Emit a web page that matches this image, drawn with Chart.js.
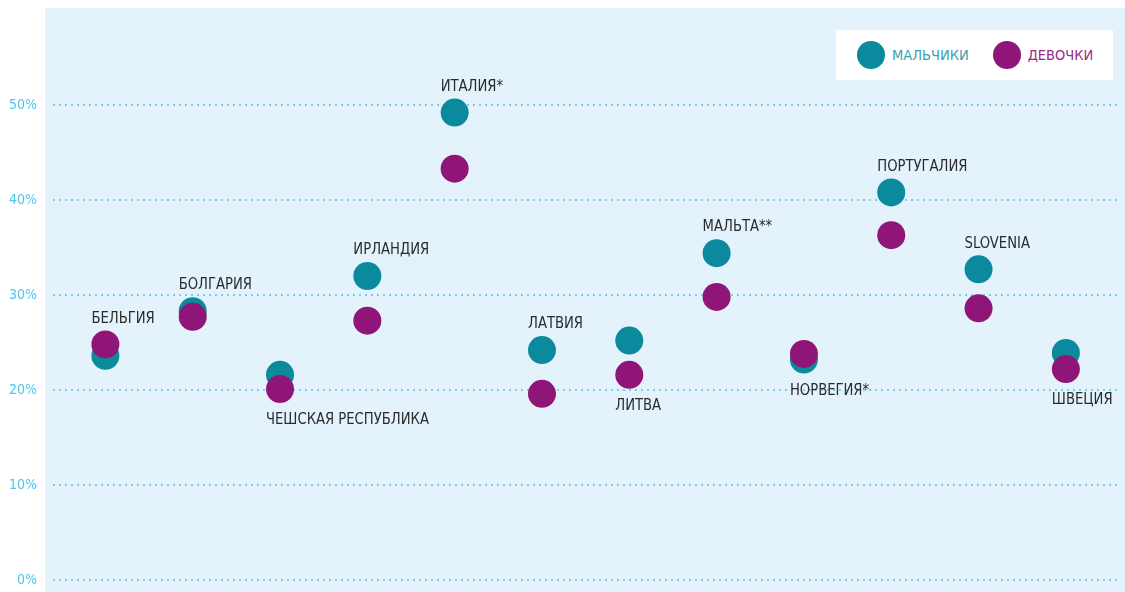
<!DOCTYPE html>
<html>
<head>
<meta charset="utf-8">
<script src="https://cdn.jsdelivr.net/npm/chart.js@4"></script>
<style>
  html, body { margin: 0; padding: 0; background: #fff; }
  #wrap { position: relative; width: 1125px; height: 592px; }
  canvas { display: block; }
  #legend {
    position: absolute; left: 836px; top: 30px; width: 277px; height: 50px;
    background: #fff; font-family: 'DejaVu Sans Condensed', sans-serif;
    font-size: 14.5px; display: flex; align-items: center;
  }
  .item { display: flex; align-items: center; }
  .dot { width: 28px; height: 28px; border-radius: 50%; display: inline-block; margin-right: 7px; }
</style>
</head>
<body>
<div id="wrap">
  <canvas id="c" width="1125" height="592"></canvas>
  <div id="legend"></div>
</div>
<script>
const countries = ['БЕЛЬГИЯ', 'БОЛГАРИЯ', 'ЧЕШСКАЯ РЕСПУБЛИКА', 'ИРЛАНДИЯ', 'ИТАЛИЯ*', 'ЛАТВИЯ',
  'ЛИТВА', 'МАЛЬТА**', 'НОРВЕГИЯ*', 'ПОРТУГАЛИЯ', 'SLOVENIA', 'ШВЕЦИЯ'];
const boys  = [23.6, 28.3, 21.6, 32.0, 49.2, 24.2, 25.2, 34.4, 23.2, 40.8, 32.7, 23.9];
const girls = [24.8, 27.7, 20.1, 27.3, 43.3, 19.6, 21.6, 29.8, 23.8, 36.3, 28.6, 22.2];
const labelSide = ['up', 'up', 'down', 'up', 'up', 'up', 'down', 'up', 'down', 'up', 'up', 'down'];
const yTicks = [0, 10, 20, 30, 40, 50];

const TEAL = '#0b8a9d';
const PURPLE = '#8f1579';
const FONT = "'DejaVu Sans Condensed', sans-serif";

// legend (html, boys first)
const legend = document.getElementById('legend');
[['МАЛЬЧИКИ', TEAL, '#3aa0b2', 21], ['ДЕВОЧКИ', PURPLE, '#9a2a88', 24]].forEach(([txt, c, tc, ml]) => {
  const el = document.createElement('div');
  el.className = 'item';
  el.style.marginLeft = ml + 'px';
  el.innerHTML = `<span class="dot" style="background:${c}"></span><span style="color:${tc}">${txt}</span>`;
  legend.appendChild(el);
});

const bgPlugin = {
  id: 'bg',
  beforeDraw(chart) {
    const { ctx, chartArea } = chart;
    ctx.save();
    ctx.fillStyle = '#e4f3fb';
    ctx.fillRect(chartArea.left - 8, chartArea.top - 2, chart.width, chart.height);
    ctx.restore();
  }
};

// y tick labels drawn by hand so the axis does not pad the chart area
const yLabels = {
  id: 'yLabels',
  afterDraw(chart) {
    const { ctx, scales: { y }, chartArea } = chart;
    ctx.save();
    ctx.font = '14px ' + FONT;
    ctx.fillStyle = '#4cc6ee';
    ctx.textAlign = 'right';
    ctx.textBaseline = 'middle';
    yTicks.forEach(v => ctx.fillText(v + '%', chartArea.left - 16, y.getPixelForValue(v)));
    ctx.restore();
  }
};

const countryLabels = {
  id: 'countryLabels',
  afterDatasetsDraw(chart) {
    const { ctx, scales: { x, y } } = chart;
    ctx.save();
    ctx.font = '16px ' + FONT;
    ctx.fillStyle = '#2a2a2a';
    ctx.textAlign = 'left';
    ctx.textBaseline = 'middle';
    countries.forEach((name, i) => {
      const px = x.getPixelForValue(i);
      const hi = Math.max(boys[i], girls[i]);
      const lo = Math.min(boys[i], girls[i]);
      const py = labelSide[i] === 'up' ? y.getPixelForValue(hi) - 26 : y.getPixelForValue(lo) + 31;
      // narrow the text a little, the original face is condensed
      ctx.save();
      ctx.translate(px - 14, py);
      ctx.scale(0.915, 1);
      ctx.fillText(name, 0, 0);
      ctx.restore();
    });
    ctx.restore();
  }
};

new Chart(document.getElementById('c'), {
  type: 'scatter',
  data: {
    datasets: [
      {
        label: 'ДЕВОЧКИ',
        data: girls.map((v, i) => ({ x: i, y: v })),
        backgroundColor: PURPLE,
        borderWidth: 0,
        pointRadius: 14,
        pointHoverRadius: 14
      },
      {
        label: 'МАЛЬЧИКИ',
        data: boys.map((v, i) => ({ x: i, y: v })),
        backgroundColor: TEAL,
        borderWidth: 0,
        pointRadius: 14,
        pointHoverRadius: 14
      }
    ]
  },
  options: {
    responsive: false,
    animation: false,
    layout: { autoPadding: false, padding: { top: 10, right: 5, bottom: 12, left: 0 } },
    plugins: { legend: { display: false }, tooltip: { enabled: false } },
    scales: {
      x: { type: 'linear', min: -0.6, max: 11.62, display: false },
      y: {
        min: 0,
        max: 60,
        afterBuildTicks: (axis) => { axis.ticks = yTicks.map(v => ({ value: v })); },
        afterFit: (axis) => { axis.width = 53; },
        grid: { color: '#79cdef', lineWidth: 2, drawTicks: false },
        border: { display: false, dash: [2, 4] },
        ticks: { display: false }
      }
    }
  },
  plugins: [bgPlugin, yLabels, countryLabels]
});
</script>
</body>
</html>
